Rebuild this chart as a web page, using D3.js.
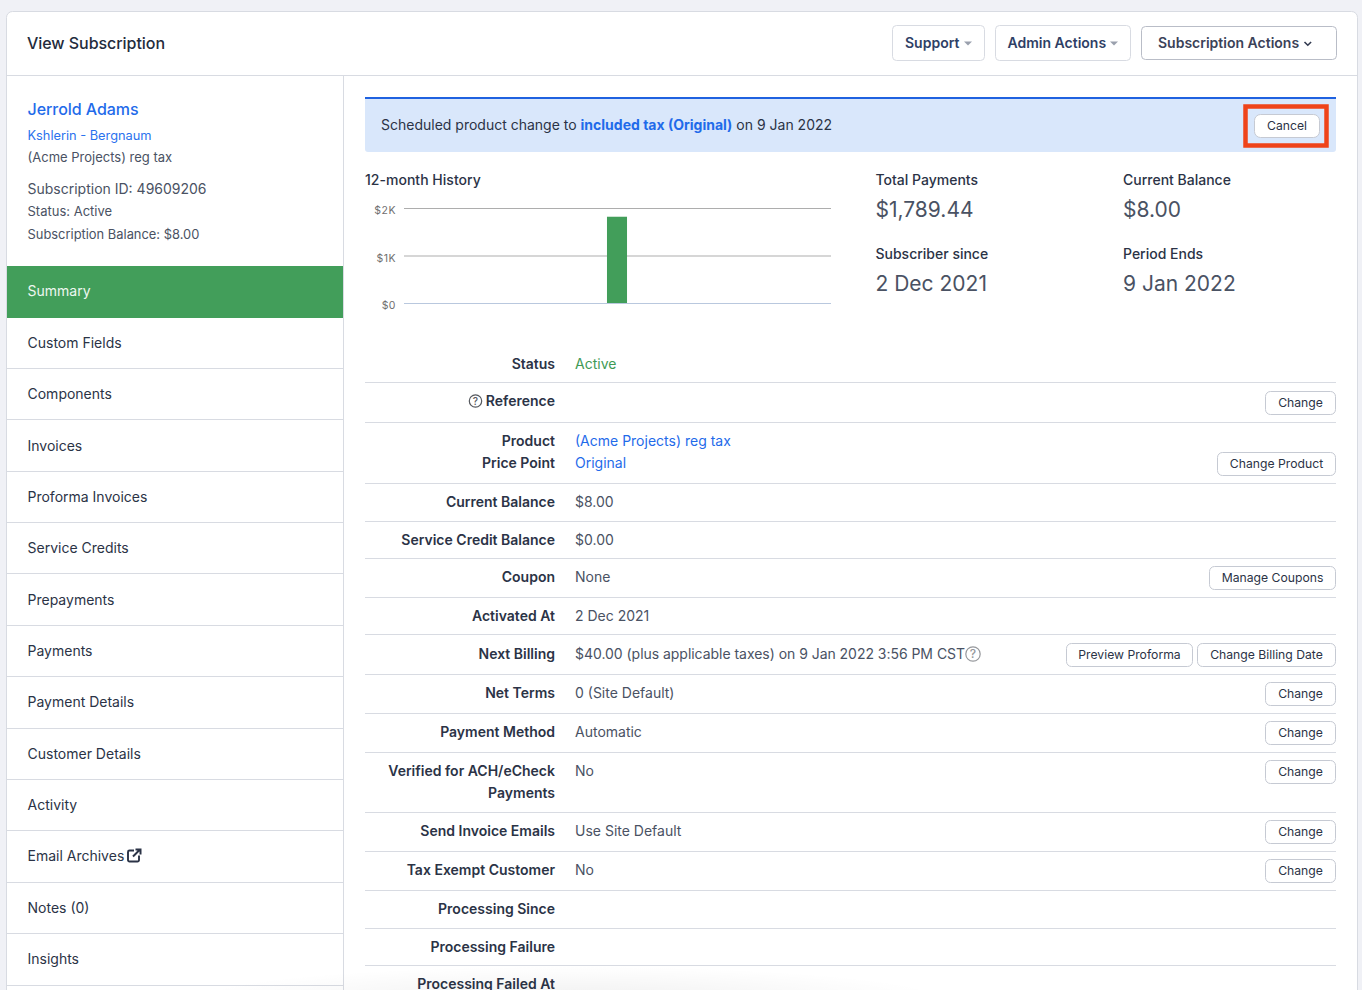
<!DOCTYPE html>
<html>
<head>
<meta charset="utf-8">
<title>View Subscription</title>
<script src="https://cdn.jsdelivr.net/npm/d3@7"></script>
<style>
    html, body { margin: 0; padding: 0; background: #f0f1f6; overflow: hidden; }
    svg { display: block; font-family: Inter, "Noto Sans", sans-serif; }
</style>
</head>
<body>
<svg id="page" width="1362" height="990"></svg>
<script>
    // chart data
    const months = ["Jun", "Jul", "Aug", "Sep", "Oct", "Nov", "Dec", "Jan", "Feb", "Mar", "Apr", "May", "Jun "]
    const payments = [0, 0, 0, 0, 0, 0, 1816, 0, 0, 0, 0, 0, 0]
    const yTicks = [0, 1000, 2000]
    const yTickLabels = ["$0", "$1K", "$2K"]

    // page text
    const sideItems = ["Custom Fields", "Components", "Invoices", "Proforma Invoices", "Service Credits", "Prepayments",
        "Payments", "Payment Details", "Customer Details", "Activity", "Email Archives", "Notes (0)", "Insights"]
    const statLabels = ["Total Payments", "Current Balance", "Subscriber since", "Period Ends"]
    const statValues = ["$1,789.44", "$8.00", "2 Dec 2021", "9 Jan 2022"]
    const rowLabels = ["Status", "Reference", "Product", "Price Point", "Current Balance", "Service Credit Balance", "Coupon",
        "Activated At", "Next Billing", "Net Terms", "Payment Method", "Verified for ACH/eCheck", "Payments",
        "Send Invoice Emails", "Tax Exempt Customer", "Processing Since", "Processing Failure", "Processing Failed At"]
    const rowValues = ["Active", "", "(Acme Projects) reg tax", "Original", "$8.00", "$0.00", "None", "2 Dec 2021",
        "$40.00 (plus applicable taxes) on 9 Jan 2022 3:56 PM CST", "0 (Site Default)", "Automatic", "No", "",
        "Use Site Default", "No", "", "", ""]
    const buttonLabels = ["Change", "Change Product", "Manage Coupons", "Preview Proforma", "Change Billing Date",
        "Change", "Change", "Change", "Change", "Change"]

    // layout, kept apart from the values
    const sideRuleY = [368, 419, 471, 522, 573, 625, 676, 728, 779, 830, 882, 933, 985]
    const rowTextY = [364, 401, 441, 463, 502, 540, 577, 616, 654, 693, 732, 771, 793, 831, 870, 909, 947, 984]
    const ruleY = [382, 422, 483, 521, 558, 597, 634, 674, 713, 752, 812, 851, 890, 928, 965]
    const buttonBox = [[1265, 403], [1217, 464], [1209, 578], [1066, 655], [1197, 655], [1265, 694], [1265, 733], [1265, 772], [1265, 832], [1265, 871]]
    const buttonRight = [1336, 1336, 1336, 1193, 1336, 1336, 1336, 1336, 1336, 1336]
    const statX = [875.5, 1123, 875.5, 1123]
    const statLabelY = [180, 180, 254, 254]
    const statValueY = [210, 210, 284, 284]

    const svg = d3.select("#page")

    function label(g, x, y, str, opts = {}) {
        return g.append("text")
            .attr("x", x)
            .attr("y", y)
            .attr("dy", "0.35em")
            .attr("text-anchor", opts.anchor || "start")
            .attr("font-size", opts.size || 14)
            .attr("font-weight", opts.weight || 400)
            .attr("letter-spacing", opts.spacing || 0)
            .attr("fill", opts.fill || "#2b3346")
            .text(str)
    }

    function hline(g, x1, x2, y, color = "#d8dbe2") {
        g.append("line").attr("x1", x1).attr("x2", x2).attr("y1", y + 0.5).attr("y2", y + 0.5)
            .attr("stroke", color).attr("stroke-width", 1)
    }

    function box(g, x, y, w, h, r, fill, stroke) {
        return g.append("rect").attr("x", x + 0.5).attr("y", y + 0.5).attr("width", w - 1).attr("height", h - 1)
            .attr("rx", r).attr("fill", fill).attr("stroke", stroke)
    }

    function helpIcon(g, cx, cy, r, size, color) {
        g.append("circle").attr("cx", cx).attr("cy", cy).attr("r", r)
            .attr("fill", "none").attr("stroke", color).attr("stroke-width", 1.2)
        label(g, cx, cy, "?", { anchor: "middle", size: size, weight: 500, fill: color })
    }

    // card
    box(svg, 6, 11, 1352, 1000, 6, "#fff", "#d8dbe2")
    label(svg, 27, 43, "View Subscription", { size: 16, weight: 500, spacing: -0.05, fill: "#232b3c" })
    hline(svg, 7, 1357, 75)

    // header buttons
    box(svg, 892, 25, 93, 36, 4, "#fff", "#d8dbe2")
    label(svg, 905, 43, "Support", { weight: 600, size: 14, fill: "#2f3f66" })
    box(svg, 995, 25, 136, 36, 4, "#fff", "#d8dbe2")
    label(svg, 1007.5, 43, "Admin Actions", { weight: 600, size: 14, fill: "#2f3f66" })
    box(svg, 1141, 26, 196, 34, 4, "#fff", "#b9bdc7")
    label(svg, 1158, 43, "Subscription Actions", { weight: 600, size: 14, fill: "#3b4258" })
    const carets = [[968, 43.5], [1114, 43.5]]
    svg.selectAll("path.caret").data(carets).enter().append("path").attr("class", "caret")
        .attr("d", d => `M${d[0] - 4},${d[1] - 2}h8l-4,4z`).attr("fill", "#9aa0ad")
    svg.append("path").attr("d", "M1304.5,42l3.3,3.2l3.3,-3.2").attr("fill", "none")
        .attr("stroke", "#323a50").attr("stroke-width", 1.6)

    // sidebar
    svg.append("line").attr("x1", 343.5).attr("x2", 343.5).attr("y1", 76).attr("y2", 990).attr("stroke", "#d8dbe2")
    label(svg, 27.5, 109.5, "Jerrold Adams", { size: 16, fill: "#1f6bea", weight: 500, spacing: -0.05 })
    label(svg, 27.5, 135.5, "Kshlerin - Bergnaum", { size: 12.8, fill: "#2a72ee" })
    label(svg, 27.5, 157.5, "(Acme Projects) reg tax", { size: 13, fill: "#4a5263" })
    label(svg, 27.5, 189, "Subscription ID: 49609206", { size: 14, fill: "#4a5263" })
    label(svg, 27.5, 211.5, "Status: Active", { size: 13, fill: "#4a5263" })
    label(svg, 27.5, 234.5, "Subscription Balance: $8.00", { size: 12.9, fill: "#4a5263" })
    svg.append("rect").attr("x", 7).attr("y", 266).attr("width", 336).attr("height", 52).attr("fill", "#429e5a")
    label(svg, 27.5, 291, "Summary", { fill: "#eef7f0" })

    const sideY = d3.scaleLinear().domain([0, 12]).range([343, 959])
    const sideG = svg.append("g")
    sideItems.forEach((d, i) => {
        label(sideG, 27.5, sideY(i), d)
        hline(sideG, 7, 343, sideRuleY[i])
    })
    // external link icon next to Email Archives
    svg.append("path").attr("d", "M139,855.5v4.5a1.5,1.5 0 0 1 -1.5,1.5h-8a1.5,1.5 0 0 1 -1.5,-1.5v-8a1.5,1.5 0 0 1 1.5,-1.5h4.5")
        .attr("fill", "none").attr("stroke", "#2b3346").attr("stroke-width", 1.9)
    svg.append("path").attr("d", "M133,856.5l7,-7M135.5,849.5h5v5").attr("fill", "none").attr("stroke", "#2b3346").attr("stroke-width", 2)

    // notice banner
    svg.append("rect").attr("x", 365).attr("y", 97).attr("width", 971).attr("height", 55).attr("rx", 3).attr("fill", "#d9e7fb")
    svg.append("rect").attr("x", 365).attr("y", 97).attr("width", 971).attr("height", 2).attr("fill", "#1f62e0")
    const notice = svg.append("text").attr("x", 381).attr("y", 125).attr("dy", "0.35em").attr("font-size", 14).attr("fill", "#2b3346")
    notice.append("tspan").text("Scheduled product change to ")
    notice.append("tspan").attr("font-weight", 700).attr("fill", "#1f6bea").text("included tax (Original)")
    notice.append("tspan").text(" on 9 Jan 2022")
    box(svg, 1254, 114, 66, 24, 6, "#fff", "#c6cad3")
    label(svg, 1287, 126, "Cancel", { anchor: "middle", size: 12.2 })
    svg.append("rect").attr("x", 1245.5).attr("y", 106.5).attr("width", 81).attr("height", 39)
        .attr("fill", "none").attr("stroke", "#ef4319").attr("stroke-width", 4.5)

    // 12-month history chart
    label(svg, 365, 180, "12-month History", { weight: 500, spacing: 0.02 })
    const x = d3.scaleBand().domain(d3.range(months.length)).range([403.5, 830.5]).paddingInner(0.39).paddingOuter(0.195)
    const y = d3.scaleLinear().domain([0, 2000]).range([303, 208])
    const axis = d3.axisLeft(y)
        .tickValues(yTicks)
        .tickFormat((d, i) => yTickLabels[i])
        .tickSize(-427)
        .tickPadding(8)
    const axisG = svg.append("g").attr("transform", "translate(404,0)").call(axis)
    axisG.select(".domain").remove()
    axisG.selectAll(".tick line").attr("stroke", d => d === 0 ? "#b9c8de" : "#adadad")
    axisG.selectAll(".tick text").attr("font-size", 10.5).attr("letter-spacing", 0.5).attr("y", 0)
        .attr("dy", "0.55em").attr("fill", "#6f6f6f").attr("font-family", "Inter, sans-serif")
    svg.append("g").selectAll("rect").data(payments).enter().append("rect")
        .attr("x", (d, i) => x(i))
        .attr("width", x.bandwidth())
        .attr("y", d => y(d))
        .attr("height", d => y(0) - y(d))
        .attr("fill", "#429e5a")

    // stat blocks
    statLabels.forEach((d, i) => {
        label(svg, statX[i], statLabelY[i], d, { weight: 500 })
        label(svg, statX[i], statValueY[i], statValues[i], { size: 21, fill: "#4a5263" })
    })

    // detail rows
    const rows = svg.append("g")
    rowLabels.forEach((d, i) => {
        label(rows, 555, rowTextY[i], d, { anchor: "end", weight: 600 })
        const isLink = d === "Product" || d === "Price Point"
        const color = d === "Status" ? "#3f9a55" : isLink ? "#1f6bea" : "#4a5263"
        label(rows, 575, rowTextY[i], rowValues[i], { fill: color, spacing: d === "Next Billing" ? -0.035 : 0 })
    })
    ruleY.forEach(d => hline(rows, 365, 1336, d))
    helpIcon(rows, 475.5, 401, 6.2, 10, "#55585e")
    helpIcon(rows, 973, 654, 7.2, 12, "#96989c")

    // row buttons
    buttonLabels.forEach((d, i) => {
        const [left, cy] = buttonBox[i]
        const w = buttonRight[i] - left
        box(rows, left, cy - 12, w, 24, 5, "#fff", "#c6cad3")
        label(rows, left + w / 2, cy, d, { anchor: "middle", size: 12.2 })
    })

    // soft shadow along the bottom edge
    const grad = svg.append("defs").append("radialGradient").attr("id", "fade")
    grad.append("stop").attr("offset", "0%").attr("stop-color", "#000").attr("stop-opacity", 0.06)
    grad.append("stop").attr("offset", "100%").attr("stop-color", "#000").attr("stop-opacity", 0)
    svg.append("ellipse").attr("cx", 570).attr("cy", 1000).attr("rx", 380).attr("ry", 34).attr("fill", "url(#fade)")
</script>
</body>
</html>
